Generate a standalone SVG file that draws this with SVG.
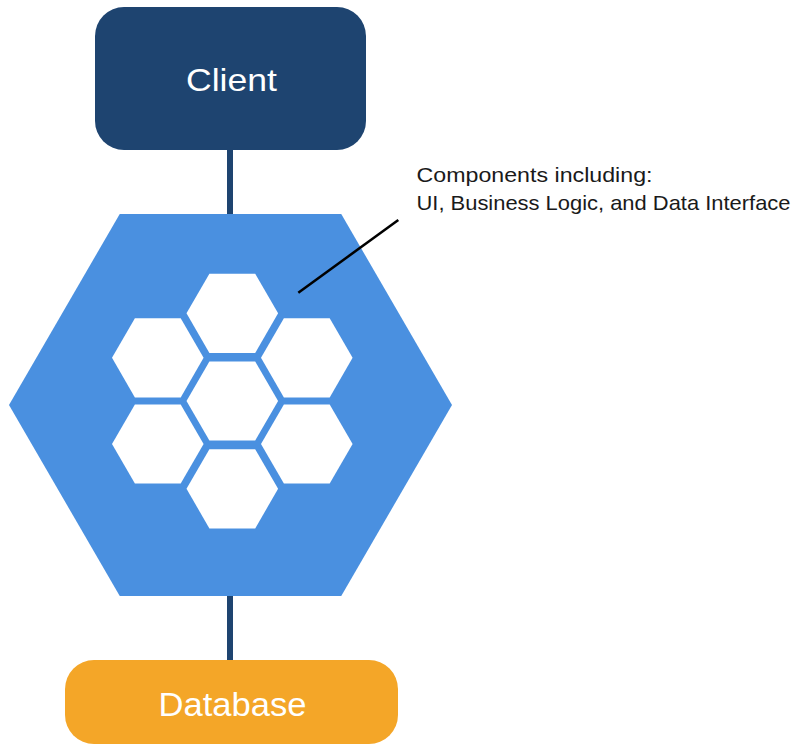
<svg xmlns="http://www.w3.org/2000/svg" xmlns:xlink="http://www.w3.org/1999/xlink" width="795" height="746" viewBox="0 0 795 746">
  <style>
    .conn { stroke: #1E4470; stroke-width: 6; fill: none; }
    .leader { stroke: #000000; stroke-width: 2.5; fill: none; }
    .label { font-family: "Liberation Sans", Arial, sans-serif; fill: #ffffff; text-anchor: start; }
    .note { font-family: "Liberation Sans", Arial, sans-serif; fill: #1a1a1a; font-size: 21px; }
    .cell { fill: #ffffff; }
  </style>
  <defs>
    <polygon id="cell" points="-45.8,0 -22.9,-39.6 22.9,-39.6 45.8,0 22.9,39.6 -22.9,39.6"/>
  </defs>
  <rect width="795" height="746" fill="#ffffff"/>

  <g id="client">
    <rect x="95" y="7" width="271" height="143" rx="29" ry="29" fill="#1E4470"/>
    <text class="label" x="186" y="91" font-size="32" textLength="91" lengthAdjust="spacingAndGlyphs">Client</text>
  </g>

  <g id="application">
    <polygon points="9,405 119.75,214 341.25,214 452,405 341.25,596 119.75,596" fill="#4A90E0"/>
    <use xlink:href="#cell" class="cell" transform="translate(232.3,313.3)"/>
    <use xlink:href="#cell" class="cell" transform="translate(157.8,357.8)"/>
    <use xlink:href="#cell" class="cell" transform="translate(306.8,357.8)"/>
    <use xlink:href="#cell" class="cell" transform="translate(232.3,401)"/>
    <use xlink:href="#cell" class="cell" transform="translate(157.8,444)"/>
    <use xlink:href="#cell" class="cell" transform="translate(306.8,444)"/>
    <use xlink:href="#cell" class="cell" transform="translate(232.3,488.8)"/>
  </g>

  <g id="annotation">
    <text class="note" x="416.5" y="182" textLength="236" lengthAdjust="spacingAndGlyphs">Components including:</text>
    <text class="note" x="416.5" y="210" textLength="374" lengthAdjust="spacingAndGlyphs">UI, Business Logic, and Data Interface</text>
  </g>

  <g id="database">
    <rect x="65" y="660" width="333" height="84" rx="29" ry="29" fill="#F4A628"/>
    <text class="label" x="158.5" y="716" font-size="33" textLength="148" lengthAdjust="spacingAndGlyphs">Database</text>
  </g>

  <g id="connectors">
    <line class="conn" x1="230" y1="150" x2="230" y2="214"/>
    <line class="conn" x1="230" y1="596" x2="230" y2="660"/>
    <line class="leader" x1="298.3" y1="292.7" x2="398.3" y2="220"/>
  </g>
</svg>
